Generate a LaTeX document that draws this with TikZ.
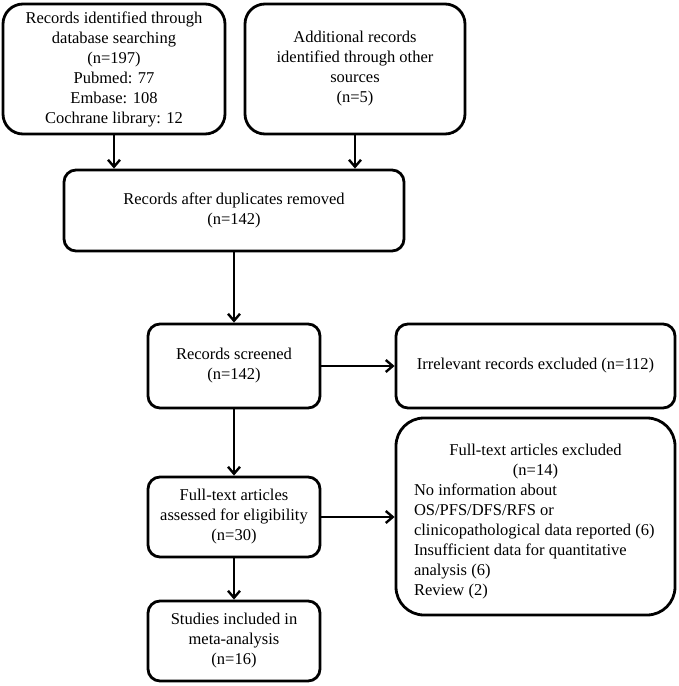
\documentclass[tikz,border=0pt]{standalone}
\usepackage{fontspec}
\setmainfont{Liberation Serif}
\usetikzlibrary{arrows.meta}
\tikzset{
  box/.style={draw=black, line width=2.8pt, rounded corners=12pt, align=center, inner sep=0pt,
    font=\fontsize{16.5}{20}\selectfont},
  conn/.style={line width=2.4pt, -{Straight Barb[length=7pt,width=12pt,line width=2.4pt]}}
}
\begin{document}
\begin{tikzpicture}[x=1pt,y=-1pt]
\useasboundingbox (0,0) rectangle (679,686);
\node[box, rounded corners=20pt, minimum width=222pt, minimum height=130pt] (b1) at (114,69)
  {Records identified through\\database searching\\(n=197)\\Pubmed: 77\\Embase: 108\\Cochrane library: 12};
\node[box, rounded corners=20pt, minimum width=220pt, minimum height=130pt] (b2) at (355,69)
  {Additional records\\identified through other\\sources\\(n=5)};
\node[box, minimum width=340pt, minimum height=81pt] (b3) at (234,210.5)
  {Records after duplicates removed\\(n=142)};
\node[box, minimum width=172pt, minimum height=84pt] (b4) at (234,366)
  {Records screened\\(n=142)};
\node[box, minimum width=279pt, minimum height=84pt] (b5) at (535.5,366)
  {Irrelevant records excluded (n=112)};
\node[box, rounded corners=28pt, minimum width=279pt, minimum height=197pt] (b6) at (535.5,516.5)
  {\begin{minipage}{243pt}\fontsize{16.5}{20}\selectfont\vspace*{10pt}\centering
   Full-text articles excluded\\(n=14)\par\raggedright
   No information about\\OS/PFS/DFS/RFS or\\clinicopathological data reported (6)\\Insufficient data for quantitative\\analysis (6)\\Review (2)\end{minipage}};
\node[box, minimum width=172pt, minimum height=80pt] (b7) at (234,517)
  {Full-text articles\\assessed for eligibility\\(n=30)};
\node[box, minimum width=172pt, minimum height=80pt] (b8) at (234,641)
  {Studies included in\\meta-analysis\\(n=16)};
\draw[conn] (b1.south) -- (b1.south |- b3.north);
\draw[conn] (b2.south) -- (b2.south |- b3.north);
\draw[conn] (b3) -- (b4);
\draw[conn] (b4) -- (b5);
\draw[conn] (b4) -- (b7);
\draw[conn] (b7) -- (b7 -| b6.west);
\draw[conn] (b7) -- (b8);
\end{tikzpicture}
\end{document}
